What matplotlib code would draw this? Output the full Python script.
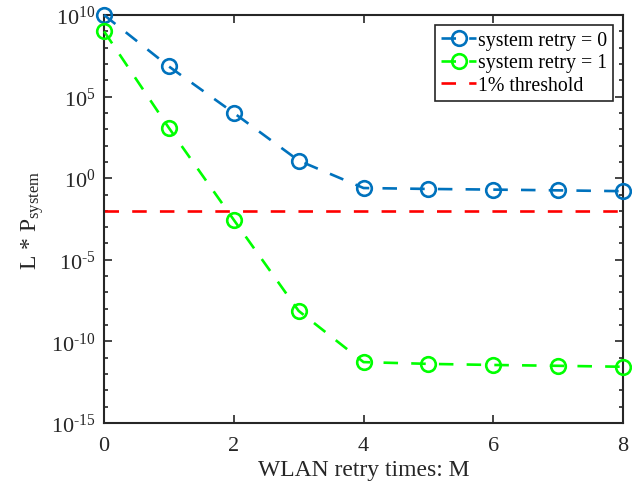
import matplotlib
matplotlib.use('Agg')
import matplotlib.pyplot as plt
from matplotlib.ticker import FuncFormatter, LogLocator, NullFormatter
import numpy as np

plt.rcParams['font.family'] = ['Liberation Serif', 'DejaVu Serif']
plt.rcParams['mathtext.fontset'] = 'custom'
plt.rcParams['mathtext.rm'] = 'Liberation Serif'
plt.rcParams['mathtext.it'] = 'Liberation Serif:italic'

# data
M = [0, 1, 2, 3, 4, 5, 6, 7, 8]
retry0 = [1e10, 7e6, 1e4, 12, 0.25, 0.22, 0.2, 0.18, 0.16]
retry1 = [1e9, 1.2e3, 2.8e-3, 7.4e-9, 5.4e-12, 4.2e-12, 3.6e-12, 3.2e-12, 2.8e-12]
threshold = 0.01
yticks = [1e-15, 1e-10, 1e-5, 1e0, 1e5, 1e10]

blue = '#0072BD'
green = '#00FF00'
red = '#FF0000'
ink = '#262626'

def pow10(v, pos):
    e = int(round(np.log10(v)))
    s = str(e).replace('-', r'\text{-}')
    return r'$\mathrm{10}^{%s}$' % s

fig = plt.figure(figsize=(6.32, 4.89), dpi=100)
ax = fig.add_axes([0.1646, 0.1329, 0.8212, 0.8344])

ax.plot(M, retry0, '--o', color=blue, lw=1.9, ms=10.5, mfc='none', mew=1.9,
        dashes=(5.5, 5), label='system retry = 0', clip_on=False, zorder=3)
ax.plot(M, retry1, '--o', color=green, lw=1.9, ms=10.5, mfc='none', mew=1.9,
        dashes=(5.5, 5), label='system retry = 1', clip_on=False, zorder=3)
ax.axhline(threshold, color=red, ls='--', lw=1.9, dashes=(5.5, 5), label='1% threshold')

ax.set_yscale('log')
ax.set_xlim(0, 8)
ax.set_ylim(1e-15, 1e10)
ax.set_xticks([0, 2, 4, 6, 8])
ax.set_yticks(yticks)
ax.yaxis.set_major_formatter(FuncFormatter(pow10))
ax.yaxis.set_minor_locator(LogLocator(base=10, subs=[1.0], numticks=40))
ax.yaxis.set_minor_formatter(NullFormatter())
ax.tick_params(which='both', direction='in', top=True, right=True, labelsize=16,
               width=1.2, colors=ink)
ax.tick_params(which='major', length=6)
ax.tick_params(which='minor', length=3)
ax.tick_params(axis='x', pad=9)
ax.tick_params(axis='y', pad=6)
for s in ax.spines.values():
    s.set_linewidth(1.5)
    s.set_color(ink)

ax.set_xlabel('WLAN retry times: M', fontsize=17, color=ink, labelpad=3)
ax.set_ylabel(r'L * P$_{\mathrm{system}}$', fontsize=17, color=ink, labelpad=4)

leg = ax.legend(loc='upper right', fontsize=14.3, fancybox=False, framealpha=1,
                edgecolor=ink, borderpad=0.3, labelspacing=0.18,
                handlelength=1.75, handletextpad=0.1, borderaxespad=0.5)
leg.get_frame().set_linewidth(1.2)

fig.savefig('out.png', dpi=100)
